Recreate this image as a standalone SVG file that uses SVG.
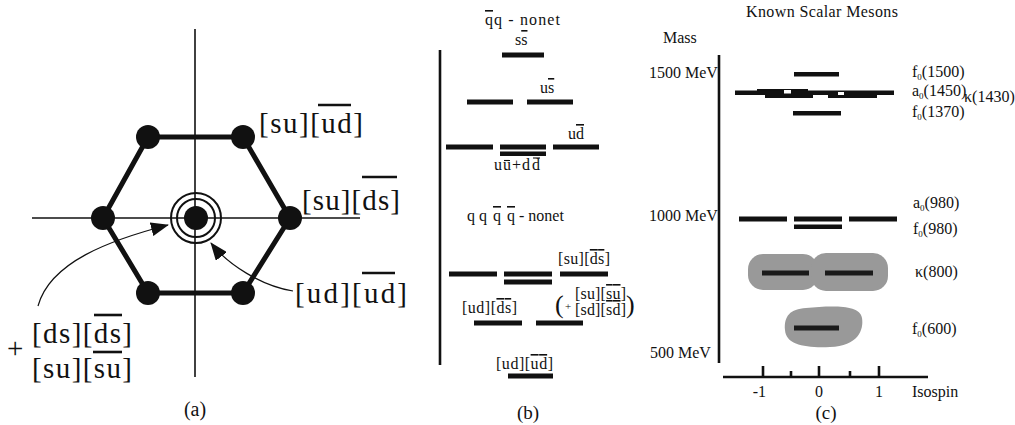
<svg xmlns="http://www.w3.org/2000/svg" width="1015" height="425" viewBox="0 0 1015 425">
<defs>
<style>
text{font-family:"Liberation Serif","Times New Roman",serif;fill:#111}
.big{font-size:29px}
.sm{font-size:16px}
.cap{font-size:20px}
.ax{stroke:#111;stroke-width:1.6;fill:none}
.hex{stroke:#111;stroke-width:5;fill:none;stroke-linejoin:round}
.ol{stroke:#111;stroke-width:2.6}
.ols{stroke:#111;stroke-width:1.1}
.bar{fill:#111}
.blob{fill:#999}
.thin{stroke:#111;stroke-width:1.2;fill:none}
.vax{stroke:#111;stroke-width:2.6}
</style>
<marker id="ah" markerUnits="userSpaceOnUse" markerWidth="18" markerHeight="14" viewBox="0 0 18 14" refX="17" refY="7" orient="auto">
<path d="M0,0 L18,7 L0,14 z" fill="#111"/>
</marker>
</defs>
<rect width="1015" height="425" fill="#fff"/>

<!-- Panel (a) -->
<g id="panel-a">
<line class="ax" x1="195" y1="29" x2="195" y2="377"/>
<line class="ax" x1="32" y1="218" x2="360" y2="218"/>
<g id="connectors-a">
<polygon class="hex" points="148,137 243,137 290,218 243,293 148,293 103,218"/>
<path class="thin" d="M38,306 C50,262 110,240 168,225" marker-end="url(#ah)"/>
<path class="thin" d="M293,291 C262,286 228,265 211,243" marker-end="url(#ah)"/>
</g>
<g id="node-tl"><circle cx="148" cy="137" r="12" fill="#111"/></g>
<g id="node-tr"><circle cx="243" cy="137" r="12" fill="#111"/></g>
<g id="node-r"><circle cx="290" cy="218" r="12" fill="#111"/></g>
<g id="node-br"><circle cx="243" cy="293" r="12" fill="#111"/></g>
<g id="node-bl"><circle cx="148" cy="293" r="12" fill="#111"/></g>
<g id="node-l"><circle cx="103" cy="218" r="12" fill="#111"/></g>
<g id="node-c">
<circle cx="196" cy="218" r="12" fill="#111"/>
<circle cx="196" cy="218" r="19" fill="none" stroke="#111" stroke-width="2"/>
<circle cx="196" cy="218" r="25" fill="none" stroke="#111" stroke-width="2"/>
</g>
<g id="labels-a">
<text class="big" x="259" y="133" textLength="104" lengthAdjust="spacing">[su][ud]</text>
<line class="ol" x1="318" y1="105" x2="351" y2="105"/>
<text class="big" x="302" y="210" textLength="98" lengthAdjust="spacing">[su][ds]</text>
<line class="ol" x1="362" y1="177" x2="397" y2="177"/>
<text class="big" x="295" y="303" textLength="112" lengthAdjust="spacing">[ud][ud]</text>
<line class="ol" x1="362" y1="273" x2="395" y2="273"/>
<text class="big" x="32" y="343" textLength="100" lengthAdjust="spacing">[ds][ds]</text>
<line class="ol" x1="94" y1="315" x2="122" y2="315"/>
<text class="big" x="32" y="378" textLength="100" lengthAdjust="spacing">[su][su]</text>
<line class="ol" x1="93" y1="352" x2="122" y2="352"/>
<text class="big" x="7" y="358">+</text>
<text class="cap" x="195" y="416" text-anchor="middle">(a)</text>
</g>
</g>

<!-- Panel (b) -->
<g id="panel-b">
<line class="vax" x1="440" y1="50" x2="440" y2="365"/>
<text class="sm" x="485" y="25" textLength="75" lengthAdjust="spacing"><tspan text-decoration="overline">q</tspan>q - nonet</text>
<text class="sm" x="515" y="45">s<tspan text-decoration="overline">s</tspan></text>
<rect class="bar" x="502" y="52.5" width="42" height="5"/>
<text class="sm" x="540" y="93">u<tspan text-decoration="overline">s</tspan></text>
<rect class="bar" x="467" y="99.5" width="46" height="5"/>
<rect class="bar" x="527" y="99.5" width="46" height="5"/>
<text class="sm" x="568" y="139">u<tspan text-decoration="overline">d</tspan></text>
<rect class="bar" x="446" y="144.5" width="47" height="5"/>
<rect class="bar" x="500" y="144.5" width="46" height="5"/>
<rect class="bar" x="500" y="151.5" width="46" height="4.5"/>
<rect class="bar" x="553" y="144.5" width="46" height="5"/>
<text class="sm" y="170"><tspan x="494">u</tspan><tspan x="503">u</tspan><tspan x="512">+</tspan><tspan x="522">d</tspan><tspan x="532">d</tspan></text>
<line class="ols" x1="504" y1="160.5" x2="510" y2="160.5"/>
<line class="ols" x1="533" y1="158" x2="540" y2="158"/>

<text class="sm" y="221"><tspan x="467">q</tspan><tspan x="479">q</tspan><tspan x="493" text-decoration="overline">q</tspan><tspan x="507" text-decoration="overline">q</tspan><tspan x="519">- nonet</tspan></text>
<text class="sm" x="558" y="264" textLength="52" lengthAdjust="spacing">[su][<tspan text-decoration="overline">d</tspan><tspan text-decoration="overline">s</tspan>]</text>
<rect class="bar" x="449" y="271.5" width="48" height="5"/>
<rect class="bar" x="504" y="271.5" width="48" height="5"/>
<rect class="bar" x="504" y="279.5" width="48" height="5"/>
<rect class="bar" x="560" y="271.5" width="48" height="5"/>
<text class="sm" x="462" y="313" textLength="55" lengthAdjust="spacing">[ud][<tspan text-decoration="overline">d</tspan><tspan text-decoration="overline">s</tspan>]</text>
<text x="555" y="313" style="font-size:26px">(</text>
<text x="565" y="310" style="font-size:11px">+</text>
<text class="sm" x="575" y="299" textLength="51" lengthAdjust="spacing">[su][<tspan text-decoration="overline">s</tspan><tspan text-decoration="overline">u</tspan>]</text>
<text class="sm" x="575" y="315" textLength="51" lengthAdjust="spacing">[sd][<tspan text-decoration="overline">s</tspan><tspan text-decoration="overline">d</tspan>]</text>
<text x="626" y="313" style="font-size:26px">)</text>
<rect class="bar" x="474" y="320.5" width="48" height="5"/>
<rect class="bar" x="536" y="320.5" width="47" height="5"/>
<text class="sm" x="496" y="369" textLength="57" lengthAdjust="spacing">[ud][<tspan text-decoration="overline">u</tspan><tspan text-decoration="overline">d</tspan>]</text>
<rect class="bar" x="508" y="373.5" width="45" height="5"/>
<text class="cap" x="528" y="419" text-anchor="middle" style="font-size:19px">(b)</text>
</g>

<!-- Panel (c) -->
<g id="panel-c">
<text class="sm" x="746" y="17" textLength="152" lengthAdjust="spacing">Known Scalar Mesons</text>
<text class="sm" x="663" y="43">Mass</text>
<line class="vax" x1="719" y1="55" x2="719" y2="363"/>
<text class="sm" x="649" y="78">1500 MeV</text>
<text class="sm" x="649" y="221">1000 MeV</text>
<text class="sm" x="650" y="358">500 MeV</text>

<g id="lvl-1500">
<rect class="bar" x="794" y="72" width="45" height="4.5"/>
<rect class="bar" x="757" y="89" width="51" height="2"/>
<rect class="bar" x="735" y="90.5" width="159" height="4.5"/>
<rect class="bar" x="765" y="91" width="48" height="7"/>
<rect class="bar" x="828" y="91" width="49" height="7"/>
<rect x="784" y="90" width="7" height="3.5" fill="#fff"/>
<rect x="838" y="92" width="6" height="3" fill="#fff"/>
<rect class="bar" x="793" y="111" width="48" height="4.5"/>
</g>
<text class="sm" x="912" y="77">f<tspan style="font-size:9px" dy="3">0</tspan><tspan dy="-3">(1500)</tspan></text>
<text class="sm" x="912" y="96">a<tspan style="font-size:9px" dy="3">0</tspan><tspan dy="-3">(1450)</tspan></text>
<text class="sm" x="964" y="102">κ(1430)</text>
<text class="sm" x="912" y="117">f<tspan style="font-size:9px" dy="3">0</tspan><tspan dy="-3">(1370)</tspan></text>

<g id="lvl-980">
<rect class="bar" x="739" y="216.5" width="48" height="5"/>
<rect class="bar" x="794" y="216.5" width="48" height="5"/>
<rect class="bar" x="849" y="216.5" width="48" height="5"/>
<rect class="bar" x="794" y="224.5" width="48" height="4.5"/>
</g>
<text class="sm" x="913" y="208">a<tspan style="font-size:9px" dy="3">0</tspan><tspan dy="-3">(980)</tspan></text>
<text class="sm" x="913" y="234">f<tspan style="font-size:9px" dy="3">0</tspan><tspan dy="-3">(980)</tspan></text>

<g id="lvl-800">
<rect class="blob" x="748" y="254" width="70" height="36" rx="15"/>
<rect class="blob" x="811" y="253" width="77" height="38" rx="15"/>
<rect x="762" y="270.5" width="47" height="5" fill="#1a1a1a"/>
<rect x="825" y="270.5" width="48" height="5" fill="#1a1a1a"/>
</g>
<text class="sm" x="915" y="277">κ(800)</text>

<g id="lvl-600">
<path class="blob" d="M806,308 C830,306 860,304 862,318 C864,330 858,346 830,347 C805,348 786,345 785,330 C784,316 790,309 806,308 Z"/>
<rect x="794" y="325.5" width="45" height="5" fill="#1a1a1a"/>
</g>
<text class="sm" x="912" y="334">f<tspan style="font-size:9px" dy="3">0</tspan><tspan dy="-3">(600)</tspan></text>

<g id="isospin-axis">
<line class="vax" x1="723" y1="377" x2="928" y2="377"/>
<line class="vax" x1="763" y1="366" x2="763" y2="377"/>
<line class="vax" x1="791" y1="371" x2="791" y2="377"/>
<line class="vax" x1="819" y1="366" x2="819" y2="377"/>
<line class="vax" x1="850" y1="371" x2="850" y2="377"/>
<line class="vax" x1="879" y1="366" x2="879" y2="377"/>
</g>
<text class="sm" x="766" y="397" text-anchor="end">-1</text>
<text class="sm" x="819" y="397" text-anchor="middle">0</text>
<text class="sm" x="879" y="397" text-anchor="middle">1</text>
<text class="sm" x="912" y="397">Isospin</text>
<text class="cap" x="826" y="419" text-anchor="middle" style="font-size:19px">(c)</text>
</g>
</svg>
